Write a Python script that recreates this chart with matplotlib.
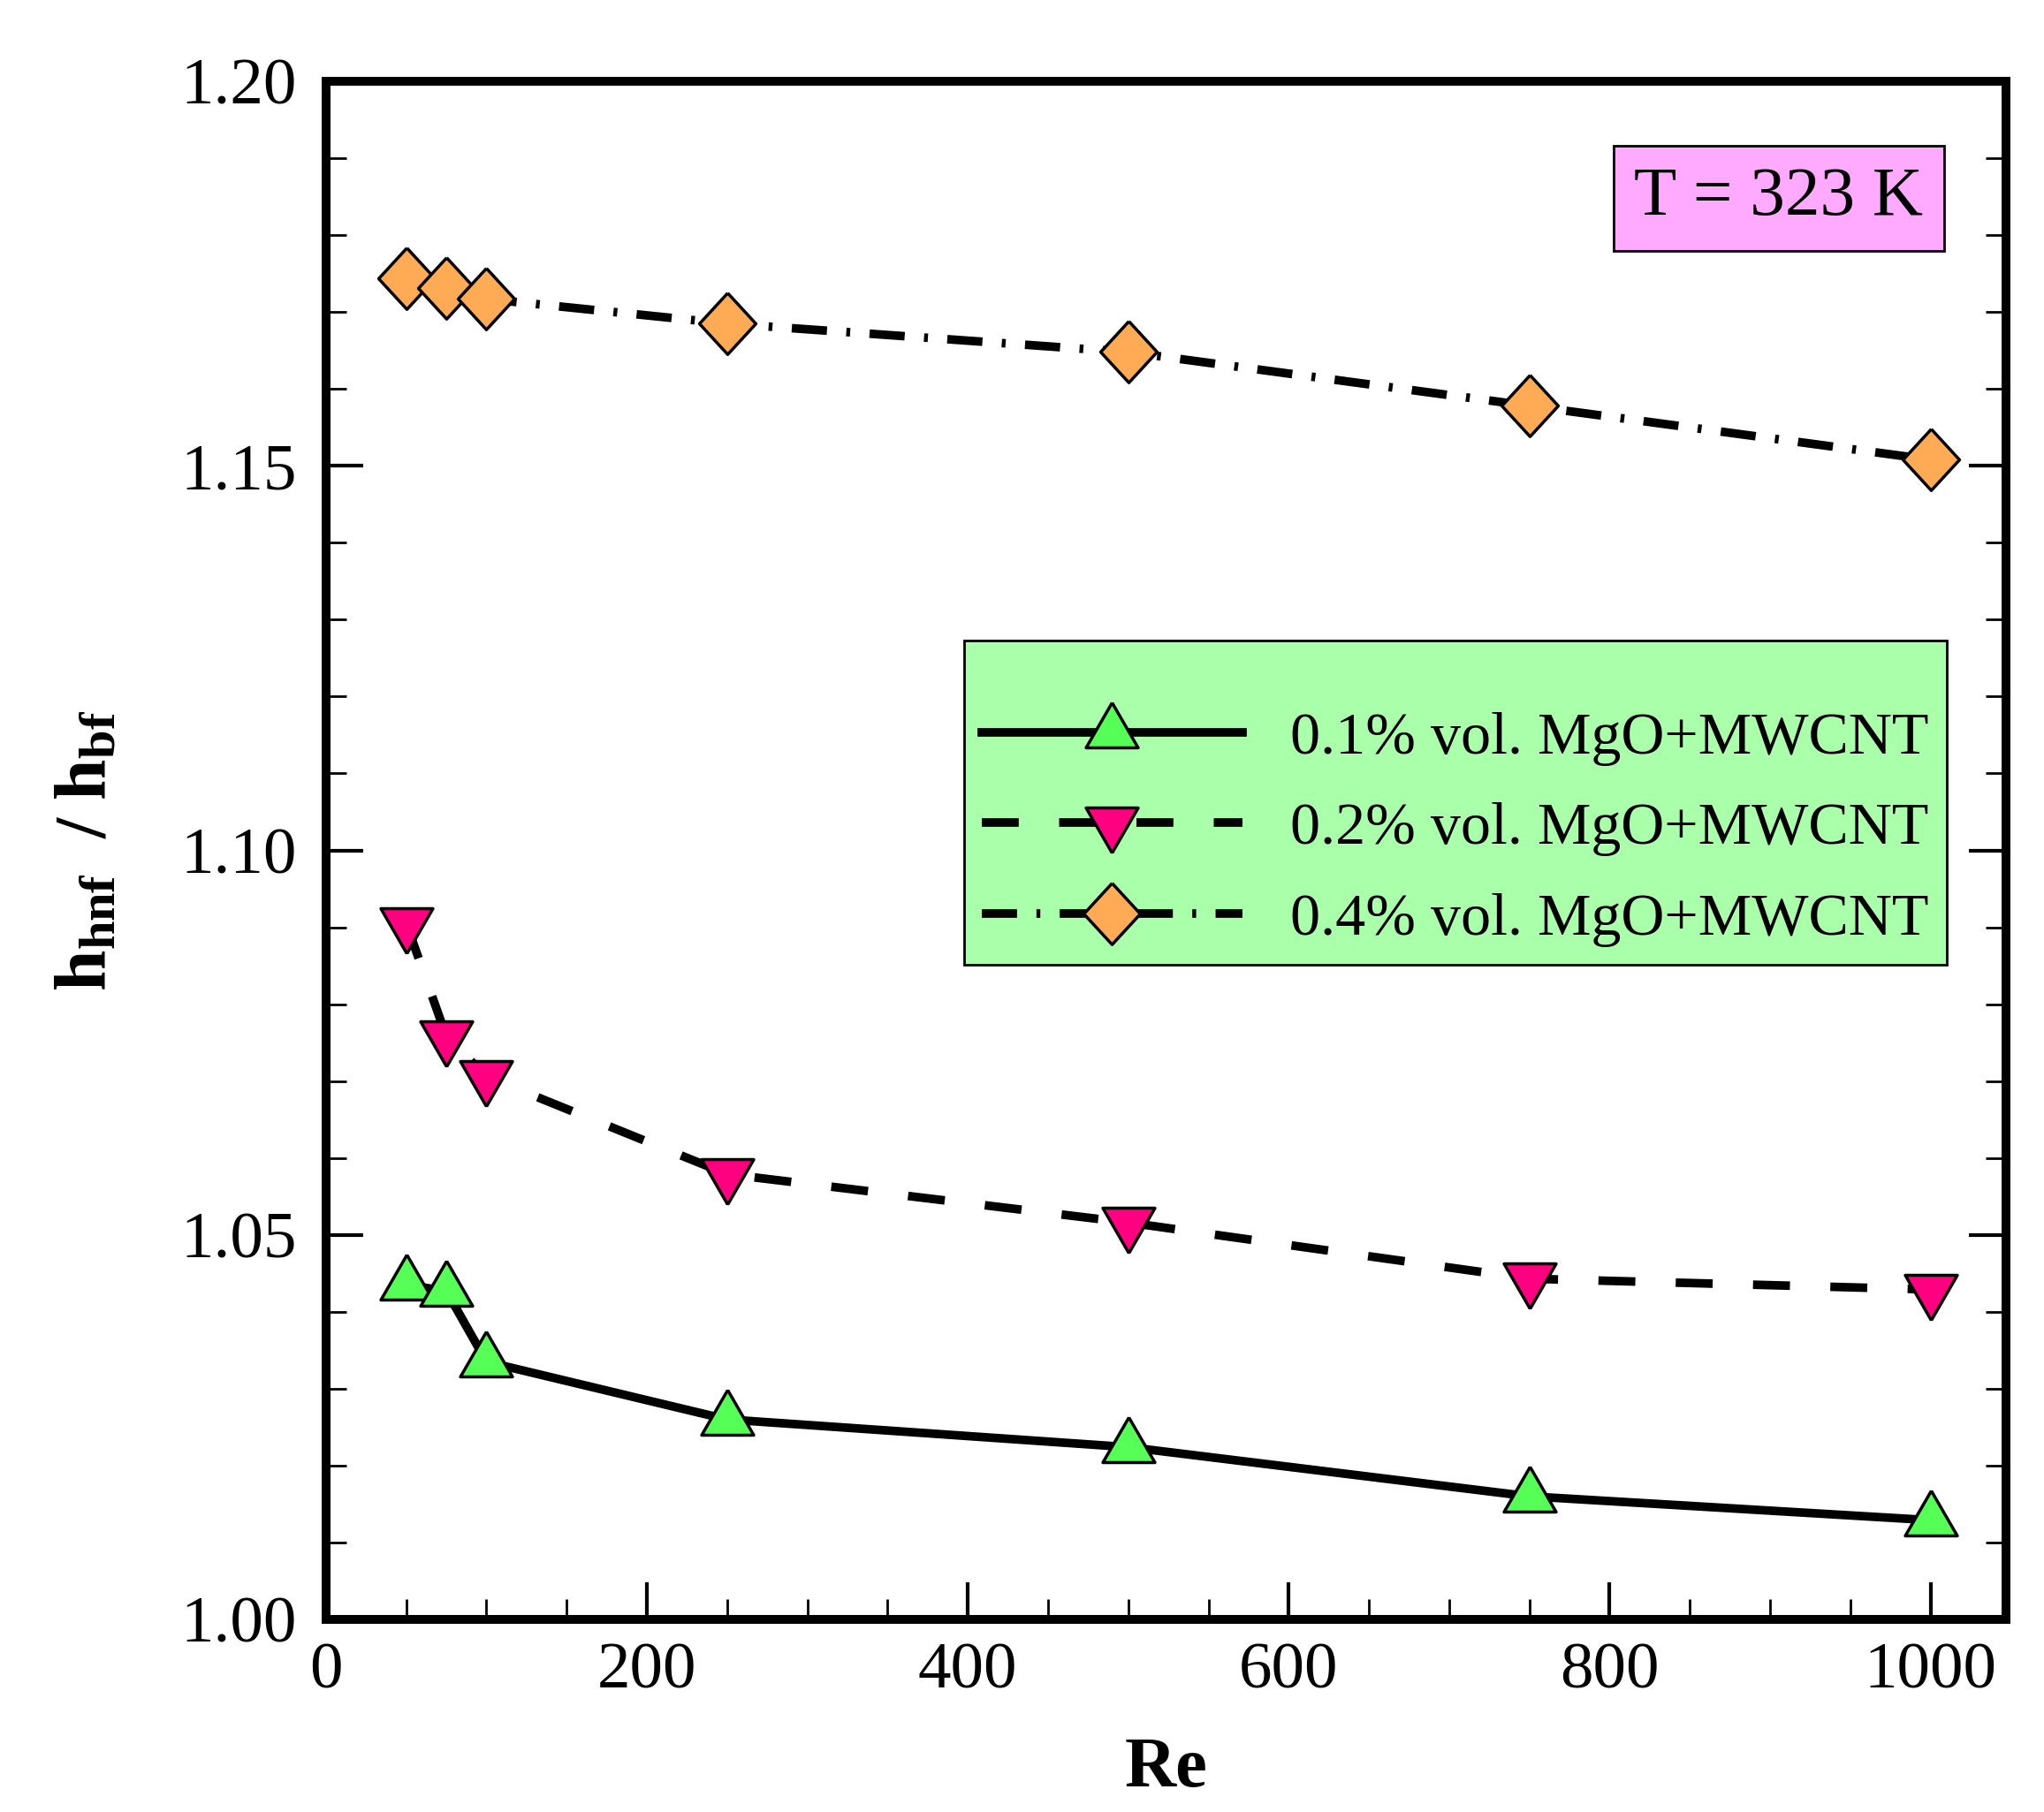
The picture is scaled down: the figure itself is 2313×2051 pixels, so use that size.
import matplotlib
matplotlib.use("Agg")
import matplotlib.pyplot as plt
from matplotlib.markers import MarkerStyle
from matplotlib.ticker import MultipleLocator, FormatStrFormatter

# values
re_vals = [50, 75, 100, 250, 500, 750, 1000]
h_01 = [1.0435, 1.0427, 1.0335, 1.0260, 1.0224, 1.0160, 1.0129]
h_02 = [1.0905, 1.0758, 1.0706, 1.0579, 1.0516, 1.0443, 1.0429]
h_04 = [1.1744, 1.1731, 1.1717, 1.1685, 1.1648, 1.1578, 1.1508]
labels = ["0.1% vol. MgO+MWCNT", "0.2% vol. MgO+MWCNT", "0.4% vol. MgO+MWCNT"]
box_text = "T = 323 K"

plt.rcParams["font.family"] = ["Liberation Serif", "DejaVu Serif"]
plt.rcParams["mathtext.fontset"] = "custom"
plt.rcParams["mathtext.rm"] = "Liberation Serif"
plt.rcParams["mathtext.bf"] = "Liberation Serif:bold"
plt.rcParams["mathtext.it"] = "Liberation Serif:italic"

# tecplot-like markers (triangles centred on their centroid)
tri_up = MarkerStyle([(0, 1.155), (-1, -0.577), (1, -0.577), (0, 1.155)], joinstyle="miter")
tri_dn = MarkerStyle([(0, -1.155), (-1, 0.577), (1, 0.577), (0, -1.155)], joinstyle="miter")
diam = MarkerStyle([(0, 1), (-0.92, 0), (0, -1), (0.92, 0), (0, 1)], joinstyle="miter")

fig = plt.figure(figsize=(23.13, 20.51), dpi=100)
ax = fig.add_axes([0.1595, 0.1063, 0.8219, 0.8488])

lw = 7
ax.plot(re_vals, h_01, color="k", lw=lw, ls="-", marker=tri_up, ms=49,
        mfc="#55ff55", mec="k", mew=2.5, label=labels[0])
ax.plot(re_vals, h_02, color="k", lw=lw, ls=(0, (4.3, 4.7)), marker=tri_dn, ms=49,
        mfc="#ff0080", mec="k", mew=2.5, label=labels[1])
ax.plot(re_vals, h_04, color="k", lw=lw, ls=(0, (4.1, 2.26, 0.45, 2.26)), marker=diam, ms=50,
        mfc="#ffaa55", mec="k", mew=2.5, label=labels[2])

ax.set_xlim(0, 1047)
ax.set_ylim(1.0, 1.2)
ax.xaxis.set_major_locator(MultipleLocator(200))
ax.xaxis.set_minor_locator(MultipleLocator(50))
ax.yaxis.set_major_locator(MultipleLocator(0.05))
ax.yaxis.set_minor_locator(MultipleLocator(0.01))
ax.yaxis.set_major_formatter(FormatStrFormatter("%.2f"))

ax.tick_params(which="both", direction="in", top=False, right=True, labelsize=54)
ax.tick_params(which="major", length=30, width=3)
ax.tick_params(which="minor", length=16.5, width=2)
ax.tick_params(axis="y", pad=24)
ax.tick_params(axis="x", pad=19)
for sp in ax.spines.values():
    sp.set_linewidth(7.2)

ax.set_xlabel("Re", fontsize=58, fontweight="bold", labelpad=28)
ax.set_ylabel(r"$\mathbf{h}_{\mathbf{hnf}}\ \ \mathbf{/}\ \mathbf{h}_{\mathbf{bf}}$", fontsize=60)
ax.yaxis.set_label_coords(-0.122, 0.5)

leg = ax.legend(loc="lower right", bbox_to_anchor=(0.9648, 0.4256), fontsize=49,
                handlelength=4.33, handletextpad=0.8, borderpad=0.3, labelspacing=0.6,
                numpoints=1, fancybox=False, framealpha=1, borderaxespad=0,
                title=" ", title_fontsize=15)
leg.get_frame().set_facecolor("#aaffaa")
leg.get_frame().set_edgecolor("k")
leg.get_frame().set_linewidth(2)

ax.text(0.8648, 0.9239, box_text, transform=ax.transAxes, fontsize=57,
        ha="center", va="center",
        bbox=dict(boxstyle="square,pad=0.3", fc="#ffaaff", ec="k", lw=2))

fig.savefig("out.png", dpi=100)
